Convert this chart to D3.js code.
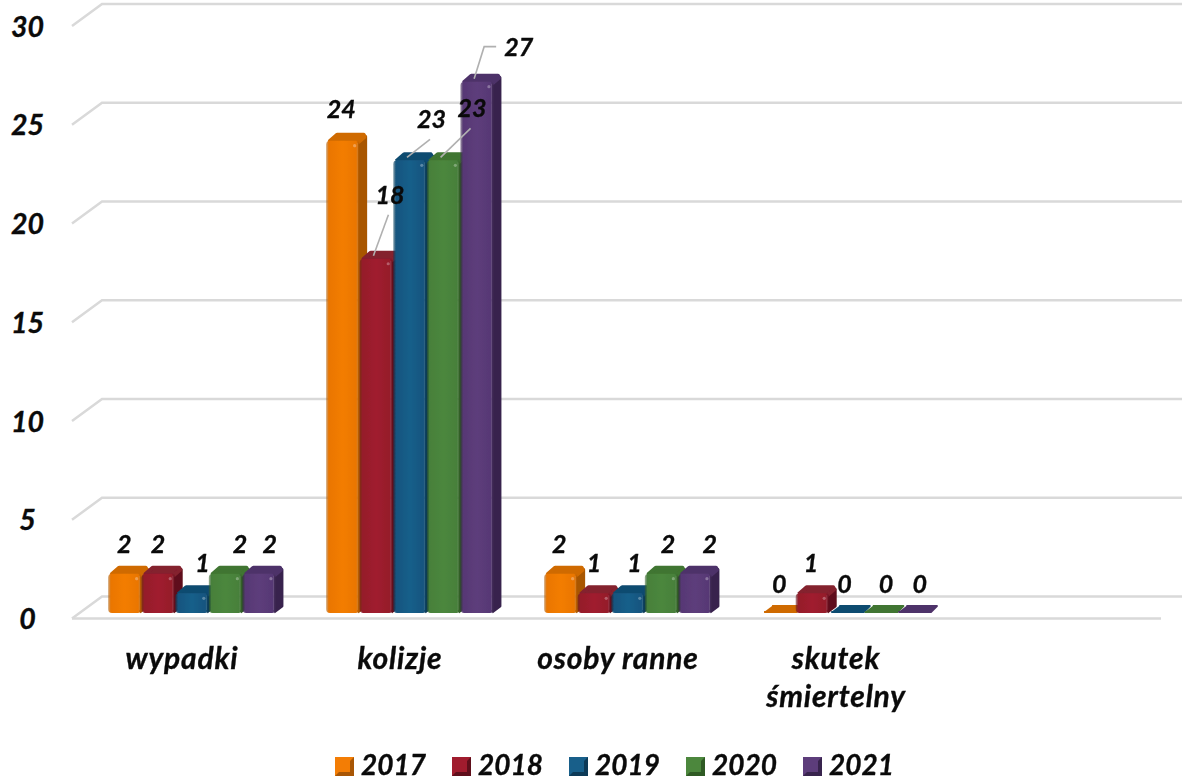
<!DOCTYPE html>
<html><head><meta charset="utf-8">
<script src="https://cdn.jsdelivr.net/npm/d3@7"></script>
<style>html,body{margin:0;background:#fff}svg{display:block}
text{font-family:Lato,"Open Sans",sans-serif;font-weight:700;font-style:italic;fill:#0a0a0a;stroke:#0a0a0a;stroke-width:.35px}</style>
</head><body><svg id="c" width="1182" height="778"></svg>
<script>
const categories = ["wypadki","kolizje","osoby ranne","skutek śmiertelny",""];
const seriesNames = ["2017","2018","2019","2020","2021"];
const v2017 = [2,24,2,0];
const v2018 = [2,18,1,1];
const v2019 = [1,23,1,0];
const v2020 = [2,23,2,0];
const v2021 = [2,27,2,0];
const yTicks = [0,5,10,15,20,25,30];
const seriesValues = [v2017,v2018,v2019,v2020,v2021];
const palette = [
 {m:"#ea7605",l:"#f37d05",d:"#a85605",t:"#cf6a05"},
 {m:"#951a2b",l:"#a01c2e",d:"#5f0f1b",t:"#84202e"},
 {m:"#14557f",l:"#185f8a",d:"#0d3a57",t:"#114b70"},
 {m:"#47803a",l:"#4c873d",d:"#2f5a24",t:"#3f7430"},
 {m:"#573875",l:"#5d3d7b",d:"#38244d",t:"#4e3269"}];
const svg = d3.select("#c");
const dx = 30, dy = 22, depth = 7, roof = 8;
const y = d3.scaleLinear().domain([0,30]).range([613,22.6]);
const gridY = d3.scaleLinear().domain([0,30]).range([618.5,26]);
const xCat = d3.scaleBand().domain(categories).range([72,1162]);
const x0 = d3.scaleBand().domain(categories).range([83,1173]).paddingInner(0.23).paddingOuter(0.115);
const x1 = d3.scaleBand().domain(seriesNames).range([0,x0.bandwidth()]);

const defs = svg.append("defs");
defs.append("filter").attr("id","soft").attr("x","-5%").attr("y","-5%").attr("width","110%").attr("height","110%")
  .append("feGaussianBlur").attr("stdDeviation",0.55);
palette.forEach((p,i)=>{
  const g=defs.append("linearGradient").attr("id","f"+i);
  [[0,p.d,.45],[.08,p.m,1],[.5,p.l,1],[.9,p.m,1],[1,p.d,.5]].forEach(s=>
    g.append("stop").attr("offset",s[0]).attr("stop-color",s[1]).attr("stop-opacity",s[2]));
});

const grid = svg.append("g").attr("fill","none").attr("stroke","#d9d9d9").attr("stroke-width",2.5);
yTicks.forEach(t=>{
  const yf=gridY(t), yb=yf-dy;
  grid.append("path").attr("d",d3.line()([[72,yf],[72+dx,yb],[1182,yb]]));
});
grid.append("path").attr("d",d3.line()([[72,gridY(0)],[1161,gridY(0)]]));

svg.append("g").selectAll("text").data(yTicks).join("text")
  .attr("x",27.5).attr("y",d=>gridY(d)+10.5).attr("text-anchor","middle")
  .attr("font-size",28.5).text(d=>d);

const bars = svg.append("g").attr("filter","url(#soft)");
const flat = [];
categories.slice(0,4).forEach((c,ci)=>seriesNames.forEach((s,si)=>
  flat.push({c,s,si,ci,v:seriesValues[si][ci]})));
const line = d3.line();
flat.filter(d=>d.v===0).forEach(d=>{
  const p=palette[d.si], xl=x0(d.c)+x1(d.s), w=x1.bandwidth(), yb=y(0)-1;
  bars.append("path").attr("d",line([[xl+2,yb],[xl+w+1,yb],[xl+w+depth,yb-roof+2],[xl+depth+3,yb-roof+2]]))
    .attr("fill",p.t).attr("stroke",p.t).attr("stroke-width",2).attr("stroke-linejoin","round");
});
flat.filter(d=>d.v>0).forEach(d=>{
  const p=palette[d.si], xl=x0(d.c)+x1(d.s), w=x1.bandwidth(), yt=y(d.v), yb=y(0);
  const g=bars.append("g");
  g.append("path").attr("d",line([[xl+w-2,yt],[xl+w+depth-1,yt-roof+4],[xl+w+depth-1,yb-7],[xl+w-2,yb-1]]))
    .attr("fill",p.d).attr("stroke",p.d).attr("stroke-width",3).attr("stroke-linejoin","round");
  g.append("path").attr("d",line([[xl+3,yt+1],[xl+depth+4,yt-roof+2],[xl+w+depth-3,yt-roof+2],[xl+w+depth-2,yt-roof+4],[xl+w-2,yt+2]]))
    .attr("fill",p.t).attr("stroke",p.t).attr("stroke-width",4).attr("stroke-linejoin","round");
  g.append("rect").attr("x",xl).attr("y",yt).attr("width",w).attr("height",yb-yt).attr("rx",4)
    .attr("fill","url(#f"+d.si+")");
  g.append("circle").attr("cx",xl+w-5).attr("cy",yt+5).attr("r",1.6).attr("fill","#fff").attr("opacity",.3);
});

// label nudges away from the default spot above each bar: [dx, dy] per category, per series
const nudges = {
  wypadki:[[-2,0],[-2,0],[9,0],[13,0],[9,0]],
  kolizje:[[-3,-2],[12,-34],[20,-11],[27,-22],[40,-5]],
  "osoby ranne":[[-3,0],[-2,0],[5,0],[5,0],[13,0]],
  "skutek śmiertelny":[[-1,0],[-3,0],[-3,0],[5,0],[5,0]]
};
const leaderSeries = ["2018","2019","2020"];
const leaderColor = "#b0b0b0";
const labels = svg.append("g");
flat.forEach(d=>{
  const w=x1.bandwidth(), xm=x0(d.c)+x1(d.s)+w/2, yt=y(d.v);
  const sh=nudges[d.c][d.si];
  const lx=xm+sh[0], ly=(d.v===0?yt-20:yt-21)+sh[1];
  labels.append("text").attr("x",lx+1.5).attr("y",ly).attr("text-anchor","middle").attr("font-size",25).text(d.v);
  if(d.c==="kolizje" && leaderSeries.includes(d.s))
    labels.append("path").attr("fill","none").attr("stroke",leaderColor).attr("stroke-width",1.6)
      .attr("d",line([[xm-3,yt-3],[lx,ly+11]]));
  if(d.c==="kolizje" && d.s==="2021")
    labels.append("path").attr("fill","none").attr("stroke",leaderColor).attr("stroke-width",1.6)
      .attr("d",line([[xm-3,yt-3],[lx-33,ly-9],[lx-21,ly-9]]));
});

const catG=svg.append("g");
categories.forEach(c=>{
  if(!c) return;
  const parts = c.startsWith("skutek") ? c.split(" ") : [c];
  const cx=xCat(c)+xCat.bandwidth()/2+1;
  parts.forEach((t,i)=>catG.append("text").attr("x",cx).attr("y",669+i*38).attr("text-anchor","middle")
    .attr("font-size",30).attr("letter-spacing",0.8).text(t));
});

const legX = d3.scaleOrdinal().domain(seriesNames).range(d3.range(5).map(i=>335+i*117));
const leg=svg.append("g");
seriesNames.forEach((s,i)=>{
  const x=legX(s), p=palette[i];
  leg.append("rect").attr("x",x).attr("y",757).attr("width",19).attr("height",19).attr("fill",p.l);
  leg.append("path").attr("d",`M${x},776L${x+19},776L${x+19},757L${x+15},761L${x+15},772L${x+4},772Z`).attr("fill",p.d);
  leg.append("text").attr("x",x+26).attr("y",775).attr("font-size",28).text(s);
});
</script></body></html>
